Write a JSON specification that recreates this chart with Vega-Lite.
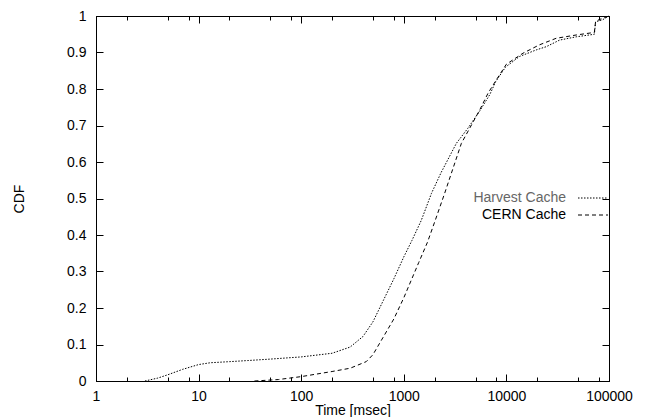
{
  "$schema": "https://vega.github.io/schema/vega-lite/v6.json",
  "width": 513,
  "height": 365,
  "autosize": {"type": "none"},
  "padding": {"left": 96, "top": 16, "right": 37, "bottom": 36},
  "background": "white",
  "config": {
    "view": {"stroke": "black", "strokeWidth": 1},
    "font": "Liberation Sans",
    "axis": {
      "domainColor": "black", "tickColor": "black", "labelColor": "black", "titleColor": "black",
      "labelFontSize": 14, "titleFontSize": 14, "titleFontWeight": "normal", "grid": false,
      "labelFont": "Liberation Sans", "titleFont": "Liberation Sans", "tickWidth": 1, "domainWidth": 1
    }
  },
  "data": {
    "values": [
      {"series": "Harvest Cache", "time": 3, "cdf": 0},
      {"series": "Harvest Cache", "time": 4, "cdf": 0.008},
      {"series": "Harvest Cache", "time": 5, "cdf": 0.017},
      {"series": "Harvest Cache", "time": 7, "cdf": 0.032},
      {"series": "Harvest Cache", "time": 10, "cdf": 0.045},
      {"series": "Harvest Cache", "time": 13, "cdf": 0.05},
      {"series": "Harvest Cache", "time": 20, "cdf": 0.053},
      {"series": "Harvest Cache", "time": 30, "cdf": 0.056},
      {"series": "Harvest Cache", "time": 50, "cdf": 0.06},
      {"series": "Harvest Cache", "time": 100, "cdf": 0.066},
      {"series": "Harvest Cache", "time": 200, "cdf": 0.076},
      {"series": "Harvest Cache", "time": 300, "cdf": 0.093},
      {"series": "Harvest Cache", "time": 400, "cdf": 0.122},
      {"series": "Harvest Cache", "time": 500, "cdf": 0.162},
      {"series": "Harvest Cache", "time": 630, "cdf": 0.22},
      {"series": "Harvest Cache", "time": 800, "cdf": 0.28},
      {"series": "Harvest Cache", "time": 1000, "cdf": 0.34},
      {"series": "Harvest Cache", "time": 1200, "cdf": 0.385},
      {"series": "Harvest Cache", "time": 1480, "cdf": 0.44},
      {"series": "Harvest Cache", "time": 1860, "cdf": 0.514},
      {"series": "Harvest Cache", "time": 2300, "cdf": 0.57},
      {"series": "Harvest Cache", "time": 3250, "cdf": 0.651},
      {"series": "Harvest Cache", "time": 4200, "cdf": 0.692},
      {"series": "Harvest Cache", "time": 5500, "cdf": 0.74},
      {"series": "Harvest Cache", "time": 6900, "cdf": 0.785},
      {"series": "Harvest Cache", "time": 7850, "cdf": 0.82},
      {"series": "Harvest Cache", "time": 9800, "cdf": 0.86},
      {"series": "Harvest Cache", "time": 13400, "cdf": 0.889},
      {"series": "Harvest Cache", "time": 19500, "cdf": 0.907},
      {"series": "Harvest Cache", "time": 24500, "cdf": 0.916},
      {"series": "Harvest Cache", "time": 33000, "cdf": 0.934},
      {"series": "Harvest Cache", "time": 48000, "cdf": 0.943},
      {"series": "Harvest Cache", "time": 72000, "cdf": 0.95},
      {"series": "Harvest Cache", "time": 74000, "cdf": 0.984},
      {"series": "Harvest Cache", "time": 87000, "cdf": 0.99},
      {"series": "Harvest Cache", "time": 100000, "cdf": 1.0},
      {"series": "CERN Cache", "time": 35, "cdf": 0},
      {"series": "CERN Cache", "time": 60, "cdf": 0.004},
      {"series": "CERN Cache", "time": 100, "cdf": 0.012},
      {"series": "CERN Cache", "time": 200, "cdf": 0.026},
      {"series": "CERN Cache", "time": 300, "cdf": 0.035},
      {"series": "CERN Cache", "time": 430, "cdf": 0.053},
      {"series": "CERN Cache", "time": 500, "cdf": 0.072},
      {"series": "CERN Cache", "time": 600, "cdf": 0.11},
      {"series": "CERN Cache", "time": 800, "cdf": 0.17},
      {"series": "CERN Cache", "time": 1000, "cdf": 0.228},
      {"series": "CERN Cache", "time": 1400, "cdf": 0.325},
      {"series": "CERN Cache", "time": 1700, "cdf": 0.38},
      {"series": "CERN Cache", "time": 2030, "cdf": 0.441},
      {"series": "CERN Cache", "time": 2500, "cdf": 0.514},
      {"series": "CERN Cache", "time": 3640, "cdf": 0.651},
      {"series": "CERN Cache", "time": 5480, "cdf": 0.742},
      {"series": "CERN Cache", "time": 6610, "cdf": 0.788},
      {"series": "CERN Cache", "time": 7850, "cdf": 0.822},
      {"series": "CERN Cache", "time": 10000, "cdf": 0.868},
      {"series": "CERN Cache", "time": 14500, "cdf": 0.898},
      {"series": "CERN Cache", "time": 21000, "cdf": 0.921},
      {"series": "CERN Cache", "time": 30600, "cdf": 0.939},
      {"series": "CERN Cache", "time": 48000, "cdf": 0.948},
      {"series": "CERN Cache", "time": 72000, "cdf": 0.955},
      {"series": "CERN Cache", "time": 74000, "cdf": 0.985},
      {"series": "CERN Cache", "time": 80000, "cdf": 0.99},
      {"series": "CERN Cache", "time": 100000, "cdf": 1.0}
    ]
  },
  "layer": [
    {
      "mark": {"type": "line", "strokeWidth": 1, "color": "black"},
      "encoding": {
        "x": {
          "field": "time", "type": "quantitative",
          "scale": {"type": "log", "domain": [1, 100000], "nice": false},
          "axis": {
            "orient": "bottom", "title": "Time [msec]", "titlePadding": -3,
            "values": [1,2,5,8,10,20,50,80,100,200,500,800,1000,2000,5000,8000,10000,20000,50000,80000,100000],
            "labelExpr": "indexof([1,10,100,1000,10000,100000], datum.value) >= 0 ? format(datum.value, 'd') : ''",
            "labelOverlap": false, "labelFlush": false,
            "tickSize": {"condition": {"test": "indexof([1,10,100,1000,10000,100000], datum.value) >= 0", "value": -7}, "value": -4},
            "labelPadding": 15
          }
        },
        "y": {
          "field": "cdf", "type": "quantitative",
          "scale": {"domain": [0, 1], "nice": false, "zero": false},
          "axis": {
            "orient": "left", "title": "CDF", "titlePadding": 40,
            "values": [0,0.1,0.2,0.3,0.4,0.5,0.6,0.7,0.8,0.9,1],
            "format": "~g", "tickSize": -7, "labelPadding": 17, "labelFlush": false
          }
        },
        "strokeDash": {
          "field": "series", "type": "nominal",
          "scale": {"domain": ["Harvest Cache", "CERN Cache"], "range": [[1.5, 1.5], [4, 3]]},
          "legend": {
            "title": null, "orient": "none", "legendX": 490, "legendY": 175,
            "symbolType": "M-3,0H3", "symbolSize": 100, "symbolStrokeColor": "black", "symbolStrokeWidth": 1,
            "symbolFillColor": "transparent",
            "labelAlign": "right", "labelOffset": -34, "labelFontSize": 14, "labelColor": "black",
            "labelLimit": 0, "rowPadding": 3, "padding": 0, "offset": 0,
            "encode": {"labels": {"update": {"fill": {"signal": "datum.label === 'Harvest Cache' ? '#666666' : '#000000'"}}}}
          }
        }
      }
    },
    {
      "mark": {"type": "line", "opacity": 0},
      "encoding": {
        "x": {
          "field": "time", "type": "quantitative",
          "scale": {"type": "log", "domain": [1, 100000], "nice": false},
          "axis": {
            "orient": "top", "title": null, "labels": false,
            "values": [1,2,5,8,10,20,50,80,100,200,500,800,1000,2000,5000,8000,10000,20000,50000,80000,100000],
            "tickSize": {"condition": {"test": "indexof([1,10,100,1000,10000,100000], datum.value) >= 0", "value": -7}, "value": -4}
          }
        },
        "y": {
          "field": "cdf", "type": "quantitative",
          "scale": {"domain": [0, 1], "nice": false, "zero": false},
          "axis": {
            "orient": "right", "title": null, "labels": false,
            "values": [0,0.1,0.2,0.3,0.4,0.5,0.6,0.7,0.8,0.9,1], "tickSize": -7
          }
        },
        "detail": {"field": "series", "type": "nominal"}
      }
    }
  ]
}
